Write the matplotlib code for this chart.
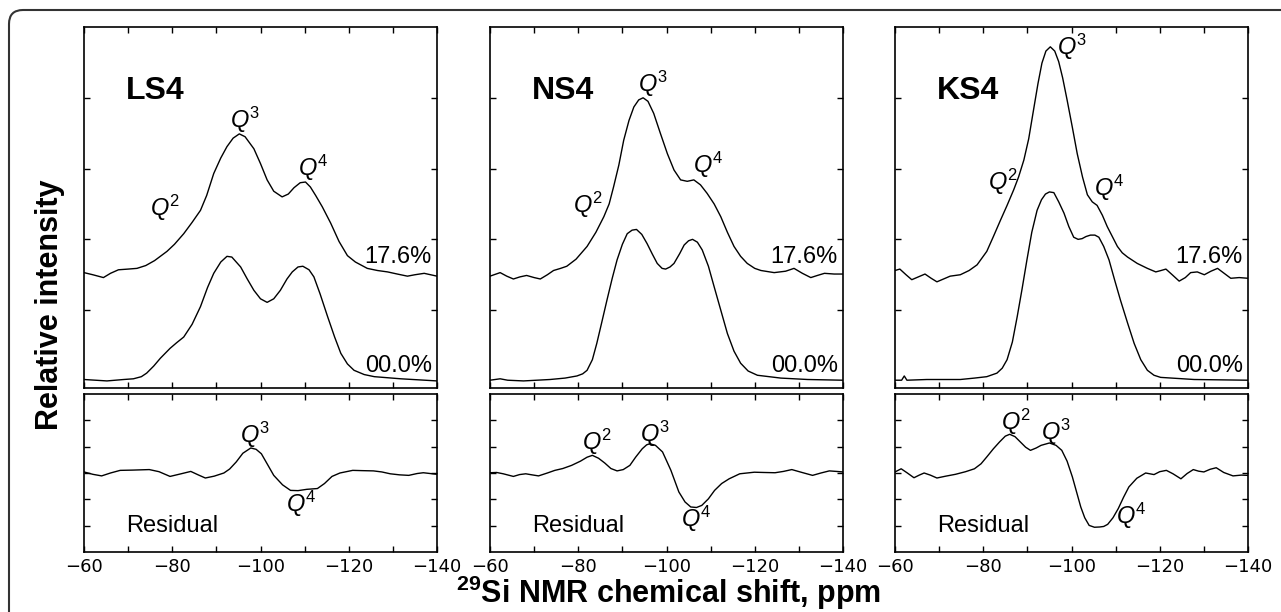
import numpy as np
import matplotlib
matplotlib.use("Agg")
import matplotlib.pyplot as plt
from matplotlib.patches import FancyBboxPatch
from matplotlib.ticker import MultipleLocator, NullFormatter
from matplotlib.transforms import IdentityTransform

plt.rcParams["mathtext.fontset"] = "custom"
plt.rcParams["mathtext.rm"] = "Liberation Sans"
plt.rcParams["mathtext.it"] = "Liberation Sans:italic"
plt.rcParams["mathtext.bf"] = "Liberation Sans:bold"

# -----------------------------------------------------------------------------
# 29Si MAS NMR spectra: fitted (17.6%), reference (00.0%) and residual
# -----------------------------------------------------------------------------
samples = ["LS4", "NS4", "KS4"]

# LS4
ls4_fit_ppm = [-60, -62, -64.4, -66, -67.8, -70, -72, -74, -76, -78.8, -80.5, -82.6, -84.5,
               -86.4, -87.8, -89.4, -91, -92.4, -93.8, -95.2, -96.5, -98.5, -100, -101.5,
               -103, -104.9, -106.3, -107.6, -109, -110.2, -111.3, -112.5, -114, -115.9,
               -117.8, -119.7, -121.5, -124.2, -126.5, -128.8, -131, -133.3, -135, -137.1,
               -140]
ls4_fit = [1.53, 1.50, 1.46, 1.52, 1.57, 1.58, 1.59, 1.63, 1.70, 1.83, 1.93, 2.08, 2.24,
           2.41, 2.62, 2.93, 3.15, 3.31, 3.43, 3.49, 3.45, 3.28, 3.07, 2.84,
           2.68, 2.60, 2.64, 2.73, 2.80, 2.81, 2.74, 2.62, 2.46, 2.23,
           1.97, 1.77, 1.68, 1.59, 1.56, 1.54, 1.51, 1.48, 1.50, 1.52,
           1.48]
ls4_ref_ppm = [-60, -65.2, -69, -71.2, -73, -74.2, -75.8, -77.3, -79.5, -81, -82.6, -84.5,
               -86.4, -88, -89.4, -91, -92.4, -93.5, -95.5, -97, -98.5, -100, -101.5, -103,
               -104.5, -106, -107.2, -108.5, -109.6, -111, -112.1, -113.5, -115.2, -116.8,
               -118.2, -119.7, -121.2, -123.5, -125.8, -131.8, -140]
ls4_ref = [0.02, 0.0, 0.02, 0.03, 0.06, 0.11, 0.21, 0.32, 0.46, 0.54, 0.62, 0.80,
           1.05, 1.32, 1.52, 1.68, 1.76, 1.75, 1.61, 1.44, 1.28, 1.16, 1.11, 1.16,
           1.28, 1.44, 1.54, 1.61, 1.62, 1.57, 1.47, 1.23, 0.91, 0.62,
           0.39, 0.24, 0.15, 0.09, 0.06, 0.03, 0.0]
ls4_res_ppm = [-60, -62, -64, -66, -68.2, -71, -74.8, -77, -79.5, -82, -84.2, -86, -87.5,
               -89.5, -91.7, -93, -94.5, -96, -97.8, -99, -100.2, -101.5, -103, -105,
               -106.8, -108.5, -110.5, -112.9, -114.5, -116.2, -118, -120.9, -123, -125.6,
               -127.5, -129.4, -131.5, -133.6, -135.5, -136.9, -140]
ls4_res = [0.04, -0.05, -0.11, 0.0, 0.10, 0.11, 0.13, 0.05, -0.13, -0.03, 0.06, -0.08, -0.19,
           -0.12, 0.0, 0.15, 0.42, 0.75, 0.95, 0.90, 0.73, 0.35, -0.09, -0.45,
           -0.66, -0.67, -0.62, -0.59, -0.40, -0.13, 0.0, 0.10, 0.09, 0.08,
           0.04, -0.03, -0.07, -0.09, -0.02, 0.01, -0.05]

# NS4
ns4_fit_ppm = [-60, -62.3, -63.8, -65.3, -66.8, -68.3, -70, -71.4, -73, -74.4, -76, -77.4,
               -79.5, -82, -84, -85.8, -87, -88, -89.2, -90.3, -91.5, -92.6, -93.7, -94.7,
               -95.8, -97.1, -98.6, -100.2, -101.7, -103.2, -104.7, -106.2, -107.7, -109.2,
               -110.8, -112.3, -113.8, -115.3, -116.8, -118.3, -120, -121.4, -124.4, -127,
               -128.9, -130.8, -132.7, -134.2, -135.8, -138, -140]
ns4_fit = [1.48, 1.53, 1.48, 1.44, 1.47, 1.49, 1.46, 1.44, 1.50, 1.56, 1.59, 1.62,
           1.72, 1.90, 2.10, 2.32, 2.50, 2.74, 3.05, 3.40, 3.68, 3.87, 3.97, 4.00,
           3.95, 3.78, 3.50, 3.21, 2.98, 2.84, 2.82, 2.84, 2.77, 2.65,
           2.50, 2.32, 2.10, 1.90, 1.76, 1.66, 1.59, 1.56, 1.53, 1.55,
           1.59, 1.52, 1.46, 1.49, 1.52, 1.51, 1.51]
ns4_ref_ppm = [-60, -62.3, -64, -67.6, -73.6, -77, -79.7, -81, -82, -83.2, -84.2, -85.3,
               -86.5, -87.7, -88.8, -90, -91.1, -92.2, -93.2, -94.4, -95.6, -96.8, -97.9,
               -99, -99.8, -100.8, -101.7, -103, -104, -105, -105.9, -107, -108.1, -109.5,
               -110.8, -112.3, -113.8, -115.3, -116.8, -118.5, -120.6, -125.9, -132, -140]
ns4_ref = [0.01, 0.03, 0.01, 0.0, 0.02, 0.04, 0.07, 0.10, 0.15, 0.30, 0.53, 0.82,
           1.14, 1.45, 1.71, 1.93, 2.08, 2.13, 2.14, 2.07, 1.94, 1.79, 1.66,
           1.59, 1.58, 1.61, 1.66, 1.80, 1.92, 1.98, 2.00, 1.96, 1.85, 1.62,
           1.33, 1.00, 0.67, 0.42, 0.25, 0.14, 0.08, 0.04, 0.02, 0.01]
ns4_res_ppm = [-60, -61.5, -63, -65.3, -66.7, -68.1, -69.5, -71, -73, -74.7, -76.5, -78.5,
               -80.5, -82, -83.2, -84.6, -86, -87.4, -88.8, -90.2, -91.7, -93, -94.5,
               -95.5, -96.2, -97.5, -99.1, -100, -101, -102.8, -104.2, -105.5, -106.8,
               -108, -109.5, -110.9, -112.5, -114.2, -116.6, -119.9, -122, -124.6, -126.5,
               -128.4, -130.5, -133.1, -135, -136.9, -138.5, -140]
ns4_res = [0.01, 0.02, -0.03, -0.13, -0.06, -0.03, -0.07, -0.11, 0.0, 0.10, 0.17, 0.29,
           0.45, 0.60, 0.67, 0.56, 0.38, 0.17, 0.08, 0.13, 0.29, 0.60, 0.92,
           1.07, 1.11, 1.05, 0.80, 0.47, 0.10, -0.72, -1.10, -1.29, -1.31,
           -1.23, -0.98, -0.66, -0.40, -0.22, -0.03, 0.03, 0.02, 0.01, 0.06,
           0.13, 0.03, -0.09, 0.0, 0.08, 0.06, 0.04]

# KS4
ks4_fit_ppm = [-60, -61.1, -62.5, -63.8, -65.3, -66.8, -68.2, -69.5, -71, -72.5, -74.8,
               -76.8, -78.6, -80.8, -82.3, -83.9, -85.4, -86.9, -88, -89.2, -90.3, -91.4,
               -92.4, -93.3, -94.2, -95.2, -96.2, -97.1, -98, -99, -100.2, -101.3, -102.5,
               -103.6, -104.7, -105.8, -107, -108.1, -110.4, -111.5, -112.7, -114.9,
               -117.2, -119.1, -120.3, -121.4, -123, -124.4, -125.8, -127, -128.5, -130.1,
               -131.6, -133.1, -134.6, -136.1, -138, -140]
ks4_fit = [1.56, 1.58, 1.50, 1.43, 1.47, 1.51, 1.45, 1.40, 1.44, 1.48, 1.50,
           1.56, 1.64, 1.83, 2.04, 2.27, 2.48, 2.70, 2.88, 3.12, 3.42, 3.83,
           4.20, 4.49, 4.66, 4.72, 4.66, 4.51, 4.28, 3.97, 3.58, 3.21, 2.88,
           2.63, 2.53, 2.48, 2.34, 2.18, 1.90, 1.81, 1.75, 1.66,
           1.59, 1.54, 1.56, 1.58, 1.49, 1.41, 1.46, 1.53, 1.54, 1.50,
           1.55, 1.59, 1.52, 1.45, 1.46, 1.45]
ks4_ref_ppm = [-60, -61.5, -62.1, -62.7, -67.2, -74.8, -78, -80.8, -83.1, -84.3, -85.4,
               -86.6, -87.7, -88.8, -89.9, -91, -92.2, -93.2, -94.1, -95, -96, -97.1,
               -98.3, -99.4, -100.5, -101.5, -102.4, -103.3, -104.3, -105.3, -106.2,
               -107.3, -108.5, -109.8, -111.1, -112.7, -114.2, -115.7, -117.2, -118.7,
               -120.2, -127.8, -140]
ks4_ref = [0.01, 0.01, 0.07, 0.01, 0.02, 0.02, 0.04, 0.06, 0.11, 0.18, 0.30,
           0.55, 0.91, 1.30, 1.71, 2.10, 2.41, 2.56, 2.64, 2.67, 2.66, 2.53,
           2.37, 2.18, 2.03, 2.00, 2.01, 2.04, 2.06, 2.06, 2.03,
           1.90, 1.71, 1.42, 1.14, 0.82, 0.53, 0.30, 0.15, 0.08,
           0.05, 0.02, 0.01]
ks4_res_ppm = [-60, -61.4, -62.8, -64.3, -65.5, -66.6, -68, -69.5, -71.5, -73.7, -76, -78,
               -79.5, -80.8, -82.3, -83.7, -85, -86, -87.2, -88.4, -89.6, -90.7, -92,
               -93.1, -95, -96.5, -97.8, -99, -100.2, -101.2, -102.1, -103, -104, -105.2,
               -106.4, -107.3, -108.2, -109.4, -110.6, -111.8, -113, -114.8, -116.8,
               -118.7, -120, -121.5, -123, -124.8, -126.2, -127.6, -128.8, -130, -131.4,
               -132.8, -134.5, -136.6, -138.5, -140]
ks4_res = [0.04, 0.16, 0.0, -0.18, -0.08, 0.0, -0.08, -0.19, -0.12, -0.05, 0.05, 0.16,
           0.35, 0.61, 0.92, 1.18, 1.40, 1.47, 1.38, 1.18, 0.98, 0.86, 0.95,
           1.05, 1.14, 1.05, 0.86, 0.45, -0.15, -0.75, -1.29, -1.70, -1.99, -2.06,
           -2.05, -2.03, -1.95, -1.70, -1.35, -0.92, -0.53, -0.20, 0.0,
           -0.06, 0.05, 0.10, -0.03, -0.22, -0.02, 0.13, 0.07, 0.04, 0.14,
           0.20, 0.02, -0.11, -0.08, -0.09]

fit_curves = [(ls4_fit_ppm, ls4_fit), (ns4_fit_ppm, ns4_fit), (ks4_fit_ppm, ks4_fit)]
ref_curves = [(ls4_ref_ppm, ls4_ref), (ns4_ref_ppm, ns4_ref), (ks4_ref_ppm, ks4_ref)]
res_curves = [(ls4_res_ppm, ls4_res), (ns4_res_ppm, ns4_res), (ks4_res_ppm, ks4_res)]

fit_label = "17.6%"
ref_label = "00.0%"

# peak labels (superscript, ppm, y) for the spectra and the residuals
q_labels_top = [
    [("2", -75.0, 2.33), ("3", -93.2, 3.57), ("4", -108.4, 2.89)],
    [("2", -78.9, 2.37), ("3", -93.6, 4.08), ("4", -106.1, 2.94)],
    [("2", -81.1, 2.70), ("3", -96.7, 4.60), ("4", -105.0, 2.61)],
]
q_labels_res = [
    [("3", -95.3, 1.14), ("4", -105.8, -1.48)],
    [("2", -80.8, 0.86), ("3", -93.9, 1.18), ("4", -103.3, -2.05)],
    [("2", -84.1, 1.62), ("3", -93.1, 1.24), ("4", -110.1, -1.92)],
]

# -----------------------------------------------------------------------------
# Figure layout (pixel based, 1281 x 612 at 100 dpi)
# -----------------------------------------------------------------------------
W, H = 1281, 612
fig = plt.figure(figsize=(W / 100, H / 100), dpi=100)

panel_left = [84, 490, 895]
panel_width = 353
top_y0, top_y1 = 27, 388
res_y0, res_y1 = 394, 552

LW = 1.0
TEXT_FONT = "Liberation Sans"


def style_axes(ax):
    for sp in ax.spines.values():
        sp.set_linewidth(1.2)
    ax.set_xlim(-60, -140)
    ax.xaxis.set_major_locator(MultipleLocator(20))
    ax.xaxis.set_minor_locator(MultipleLocator(10))
    ax.tick_params(which="both", direction="in", top=True, right=True,
                   length=4.5, width=1.0, labelsize=13, pad=4)
    ax.yaxis.set_major_formatter(NullFormatter())


def q_text(ax, n, x, y):
    ax.text(x, y, r"$\mathit{Q}^{\mathit{%s}}$" % n, fontsize=17,
            ha="left", va="baseline")


for i, name in enumerate(samples):
    x0 = panel_left[i] / W
    w = panel_width / W

    # spectra panel
    ax = fig.add_axes([x0, 1 - top_y1 / H, w, (top_y1 - top_y0) / H])
    style_axes(ax)
    ax.set_ylim(-0.1, 5.0)
    ax.set_yticks([1, 2, 3, 4])
    ax.tick_params(labelbottom=False)

    ax.plot(*fit_curves[i], color="black", lw=LW)
    ax.plot(*ref_curves[i], color="black", lw=LW)

    ax.text(-69.6, 3.98, name, fontsize=23, fontweight="bold",
            family=TEXT_FONT, ha="left", va="baseline")
    ax.text(-138.8, 1.67, fit_label, fontsize=17, family=TEXT_FONT,
            ha="right", va="baseline")
    ax.text(-138.8, 0.13, ref_label, fontsize=17, family=TEXT_FONT,
            ha="right", va="baseline")
    for n, px, py in q_labels_top[i]:
        q_text(ax, n, px, py)

    # residual panel
    axr = fig.add_axes([x0, 1 - res_y1 / H, w, (res_y1 - res_y0) / H])
    style_axes(axr)
    axr.set_ylim(-3, 3)
    axr.set_yticks([-2, -1, 0, 1, 2])
    axr.xaxis.set_major_formatter(plt.FuncFormatter(lambda v, p: "\u2212%d" % abs(v)))

    axr.plot(*res_curves[i], color="black", lw=LW)
    axr.text(-69.6, -2.24, "Residual", fontsize=17, family=TEXT_FONT,
             ha="left", va="baseline")
    for n, px, py in q_labels_res[i]:
        q_text(axr, n, px, py)

# axis titles shared by all panels
fig.text(50 / W, 1 - 305 / H, "Relative intensity", rotation=90, fontsize=22,
         fontweight="bold", family=TEXT_FONT, ha="center", va="center")
fig.text(668 / W, 1 - 603 / H, r"$^{\mathbf{29}}$Si NMR chemical shift, ppm",
         fontsize=22, fontweight="bold", family=TEXT_FONT, ha="center", va="baseline")

# rounded frame around the figure
frame = FancyBboxPatch((9, -40), W + 40, H - 10 + 40,
                       boxstyle="round,pad=0,rounding_size=14",
                       transform=IdentityTransform(), fill=False,
                       edgecolor="#333333", linewidth=1.5)
fig.add_artist(frame)

fig.savefig("out.png", dpi=100)
